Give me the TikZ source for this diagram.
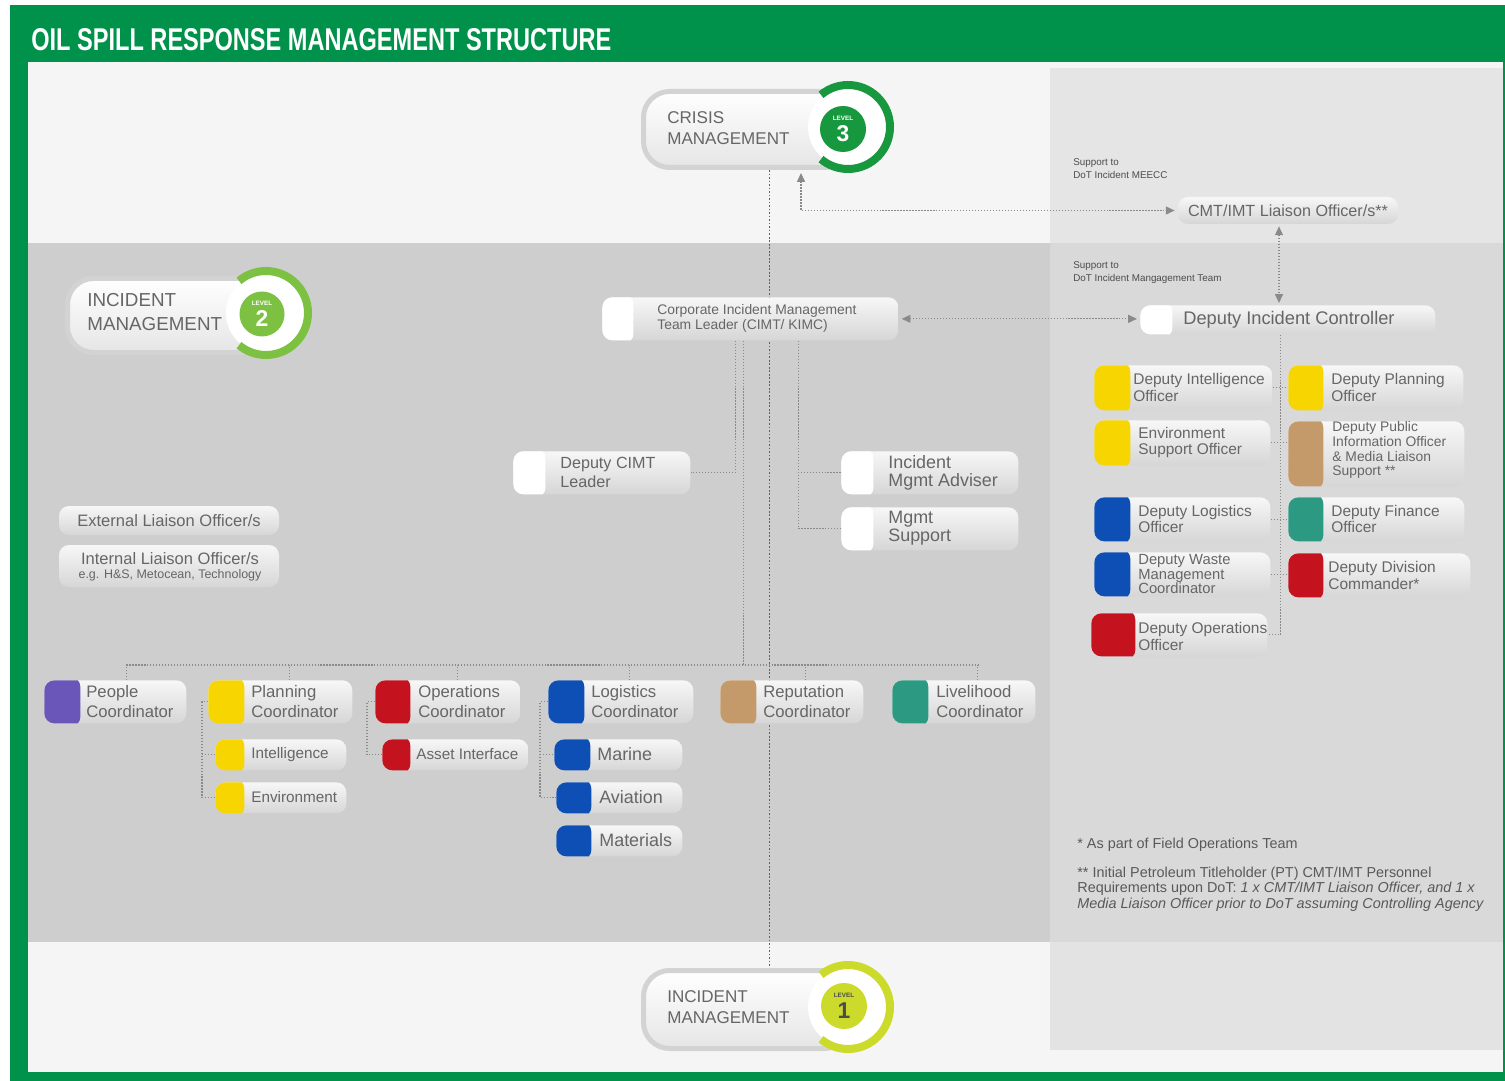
\documentclass[tikz,border=0pt]{standalone}
\usepackage{fontspec}
\setmainfont{Liberation Sans}
\usetikzlibrary{arrows.meta}
\definecolor{gframe}{HTML}{00924A}
\definecolor{bgLight}{HTML}{F5F5F5}
\definecolor{bgMid}{HTML}{CECECE}
\definecolor{panelTop}{HTML}{E5E5E5}
\definecolor{panelMid}{HTML}{D9D9D9}
\definecolor{panelBot}{HTML}{E3E3E3}
\definecolor{txt}{HTML}{666666}
\definecolor{lgray}{HTML}{8A8A8A}
\definecolor{mline}{HTML}{4D6577}
\definecolor{cPurple}{HTML}{6A55B8}
\definecolor{cYellow}{HTML}{F6D500}
\definecolor{cRed}{HTML}{C4121F}
\definecolor{cBlue}{HTML}{0E4FB5}
\definecolor{cTan}{HTML}{C49A6A}
\definecolor{cTeal}{HTML}{2C9A83}
\definecolor{boxTop}{HTML}{F7F7F7}
\definecolor{boxBot}{HTML}{D6D6D6}
\definecolor{rim}{HTML}{D3D3D3}
\definecolor{gThree}{HTML}{17983F}
\definecolor{gTwo}{HTML}{7CC142}
\definecolor{gOne}{HTML}{CCDB2B}
\newcommand\PX{0.02cm}
\newcommand\fz[2]{\fontsize{#1}{#2}\selectfont}
\newcommand\fCoord{\fz{9.5}{11.3}}
\newcommand\fSubY{\fz{8.7}{10}}
\newcommand\fSubB{\fz{10.2}{11}}
\newcommand\fRtwo{\fz{8.8}{9.2}}
\newcommand\fRthree{\fz{8.4}{8.5}}
\newcommand\fRfour{\fz{7.9}{8.5}}
\newcommand\fCorp{\fz{7.9}{9}}
\newcommand\fDC{\fz{9.2}{10.8}}
\newcommand\fAdv{\fz{10.2}{10.3}}
\newcommand\fCMT{\fz{9.2}{10}}
\newcommand\fDIC{\fz{10.4}{11}}
\newcommand\fExt{\fz{9.4}{10}}
\newcommand\fSmallx{\fz{7.1}{8}}
\newcommand\fFoot{\fz{8.2}{8.6}}
\newcommand\fSup{\fz{5.6}{7.4}}
\newcommand\fLvl{\fz{9.7}{11.9}}
\newcommand\fLvlB{\fz{10.7}{13.8}}
\pgfdeclarelayer{back}
\pgfdeclarelayer{lines}
\pgfsetlayers{back,lines,main}
% name, x1, y1, x2, y2, cap x end, cap colour
\newcommand\mkbox[7]{%
  \node[box, minimum width={(#4-#2)*\PX}, minimum height={(#5-#3)*\PX}, anchor=north west,
    path picture={\fill[#7] ([xshift=-2pt,yshift=-2pt]path picture bounding box.south west) rectangle ([xshift={(#6-#2)*\PX},yshift=2pt]path picture bounding box.north west);}]
    (#1) at (#2,#3) {};}
\begin{document}
\begin{tikzpicture}[x=\PX, y=-\PX,
  box/.style={rounded corners=10*\PX, top color=boxTop, bottom color=boxBot, inner sep=0},
  btxt/.style={text=txt, inner sep=0, align=left, anchor=west},
  ctxt/.style={text=txt, inner sep=0, align=center},
  conn/.style={draw=lgray, densely dotted, line width=0.7pt},
  arr/.style={draw=lgray, densely dotted, line width=0.7pt, {Triangle[length=5pt,width=4.5pt]}-{Triangle[length=5pt,width=4.5pt]}},
  mainline/.style={draw=mline, densely dotted, line width=1pt},
  lvlpill/.style={draw=rim, line width=5*\PX, rounded corners=26*\PX, top color=white, bottom color=white!90!black, inner sep=0},
  lvltxt/.style={text=txt, inner sep=0, align=left, anchor=west}]
\useasboundingbox (0,0) rectangle (1505,1081);
\begin{pgfonlayer}{back}
\fill[white] (0,0) rectangle (1505,1081);
\fill[gframe] (10,5) rectangle (1505,1081);
\fill[bgLight] (28,62) rectangle (1503,1072);
\fill[bgMid] (28,243) rectangle (1050,942);
\fill[panelTop] (1050,68) rectangle (1503,243);
\fill[panelMid] (1050,243) rectangle (1503,942);
\fill[panelBot] (1050,942) rectangle (1503,1050);
\end{pgfonlayer}
% title
\node[anchor=west, inner sep=0, text=white] (title) at (31,40) {\resizebox{11.6cm}{0.44cm}{\bfseries OIL SPILL RESPONSE MANAGEMENT STRUCTURE}};

% ---- level 3
\node[lvlpill, minimum width=207*\PX, minimum height=76*\PX, anchor=north west] (crisis) at (641,89) {};
\coordinate (r3) at (848,127);
\fill[white] (r3) circle[radius=40*\PX];
\draw[gThree, line width=8*\PX] ([shift={(130:42*\PX)}]r3) arc[start angle=130, end angle=-130, radius=42*\PX];
\node[circle, fill=gThree, minimum size=46*\PX, inner sep=0] (d3) at (843,129) {};
\node[inner sep=0, text=white, font=\fz{3.6}{4}\bfseries] (d3a) at (843,118) {LEVEL};
\node[inner sep=0, text=white, font=\fz{13}{13}\bfseries] (d3b) at (843,134) {3};
\node[lvltxt, font=\fLvl] (crisis-t) at (667,128) {CRISIS\\MANAGEMENT};

% ---- level 2
\node[lvlpill, minimum width=200*\PX, minimum height=74*\PX, anchor=north west] (lvltwo) at (65,276) {};
\coordinate (r2) at (266,313);
\fill[white] (r2) circle[radius=40*\PX];
\draw[gTwo, line width=8*\PX] ([shift={(130:42*\PX)}]r2) arc[start angle=130, end angle=-130, radius=42*\PX];
\node[circle, fill=gTwo, minimum size=45*\PX, inner sep=0] (d2) at (262,314) {};
\node[inner sep=0, text=white, font=\fz{3.6}{4}\bfseries] (d2a) at (262,303) {LEVEL};
\node[inner sep=0, text=white, font=\fz{13}{13}\bfseries] (d2b) at (262,319) {2};
\node[lvltxt, font=\fLvlB] (lvltwo-t) at (87,312) {INCIDENT\\MANAGEMENT};

% ---- level 1
\node[lvlpill, minimum width=207*\PX, minimum height=78*\PX, anchor=north west] (lvlone) at (641,968) {};
\coordinate (r1) at (848,1007);
\fill[white] (r1) circle[radius=40*\PX];
\draw[gOne, line width=8*\PX] ([shift={(130:42*\PX)}]r1) arc[start angle=130, end angle=-130, radius=42*\PX];
\node[circle, fill=gOne, minimum size=46*\PX, inner sep=0] (d1) at (844,1006) {};
\node[inner sep=0, text=black!70, font=\fz{3.6}{4}\bfseries] (d1a) at (844,995) {LEVEL};
\node[inner sep=0, text=black!70, font=\fz{13}{13}\bfseries] (d1b) at (844,1011) {1};
\node[lvltxt, font=\fLvl] (lvlone-t) at (667,1007) {INCIDENT\\MANAGEMENT};

% ---- top right
\node[btxt, text=black!70, font=\fSup] (sup1) at (1073,168.5) {Support to\\DoT Incident MEECC};
\node[btxt, text=black!70, font=\fSup] (sup2) at (1073,272.5) {Support to\\DoT Incident Mangagement Team};
\node[box, minimum width=220*\PX, minimum height=27*\PX, text=txt, font=\fCMT] (cmt) at (1288,210.5) {CMT/IMT Liaison Officer/s**};
\mkbox{dic}{1140}{305}{1435}{334}{1172}{white}
\node[btxt, font=\fDIC] (dic-t) at (1183,319.5) {Deputy Incident Controller};

% ---- centre
\mkbox{corp}{602}{297}{898}{340}{633}{white}
\node[btxt, font=\fCorp] (corp-t) at (657,318.5) {Corporate Incident Management\\Team Leader (CIMT/ KIMC)};
\mkbox{dcimt}{513}{451}{690}{494}{545}{white}
\node[btxt, font=\fDC] (dcimt-t) at (560,472.5) {Deputy CIMT\\Leader};
\mkbox{adv}{841}{451}{1018}{494}{873}{white}
\node[btxt, font=\fAdv] (adv-t) at (888,472.5) {Incident\\Mgmt Adviser};
\mkbox{msup}{841}{507}{1018}{550}{873}{white}
\node[btxt, font=\fAdv] (msup-t) at (888,528.5) {Mgmt\\Support};

% ---- liaison
\node[box, minimum width=220*\PX, minimum height=29*\PX, text=txt, font=\fExt] (ext) at (169,520.5) {External Liaison Officer/s};
\node[box, minimum width=220*\PX, minimum height=42*\PX] (intl) at (169,566) {};
\node[ctxt, font=\fExt] (intl-a) at (170,559) {Internal Liaison Officer/s};
\node[ctxt, font=\fSmallx] (intl-b) at (170,575) {e.g. H\&S, Metocean, Technology};

% ---- coordinators
\mkbox{people}{44}{680}{186}{723}{80}{cPurple}
\node[btxt, font=\fCoord] (people-t) at (86,701.5) {People\\Coordinator};
\mkbox{plan}{208}{680}{352}{723}{244}{cYellow}
\node[btxt, font=\fCoord] (plan-t) at (251,701.5) {Planning\\Coordinator};
\mkbox{intel}{215}{739}{346}{770}{244}{cYellow}
\node[btxt, font=\fSubY] (intel-t) at (251,754.5) {Intelligence};
\mkbox{envi}{215}{782}{346}{813}{244}{cYellow}
\node[btxt, font=\fSubY] (envi-t) at (251,797.5) {Environment};
\mkbox{opc}{375}{680}{520}{723}{410}{cRed}
\node[btxt, font=\fCoord] (opc-t) at (418,701.5) {Operations\\Coordinator};
\mkbox{asset}{382}{739}{528}{770}{410}{cRed}
\node[btxt, font=\fSubY] (asset-t) at (416,754.5) {Asset Interface};
\mkbox{logc}{548}{680}{693}{723}{584}{cBlue}
\node[btxt, font=\fCoord] (logc-t) at (591,701.5) {Logistics\\Coordinator};
\mkbox{marine}{554}{739}{682}{770}{590}{cBlue}
\node[btxt, font=\fSubB] (marine-t) at (597,754.5) {Marine};
\mkbox{aviation}{556}{782}{682}{813}{591}{cBlue}
\node[btxt, font=\fSubB] (aviation-t) at (599,797.5) {Aviation};
\mkbox{materials}{556}{825}{682}{856}{591}{cBlue}
\node[btxt, font=\fSubB] (materials-t) at (599,840.5) {Materials};
\mkbox{repc}{720}{680}{863}{723}{756}{cTan}
\node[btxt, font=\fCoord] (repc-t) at (763,701.5) {Reputation\\Coordinator};
\mkbox{live}{892}{680}{1035}{723}{928}{cTeal}
\node[btxt, font=\fCoord] (live-t) at (936,701.5) {Livelihood\\Coordinator};

% ---- right panel deputies
\mkbox{dint}{1094}{365}{1272}{410}{1130}{cYellow}
\node[btxt, font=\fRtwo] (dint-t) at (1133,387.5) {Deputy Intelligence\\Officer};
\mkbox{dplan}{1288}{365}{1463}{410}{1323}{cYellow}
\node[btxt, font=\fRtwo] (dplan-t) at (1331,387.5) {Deputy Planning\\Officer};
\mkbox{envs}{1094}{420}{1270}{465}{1130}{cYellow}
\node[btxt, font=\fRtwo] (envs-t) at (1138,442.5) {Environment\\Support Officer};
\mkbox{dpub}{1288}{421}{1464}{486}{1323}{cTan}
\node[btxt, font=\fRfour] (dpub-t) at (1332,450) {Deputy Public\\Information Officer\\\& Media Liaison\\Support **};
\mkbox{dlog}{1094}{497}{1270}{541}{1130}{cBlue}
\node[btxt, font=\fRtwo] (dlog-t) at (1138,519) {Deputy Logistics\\Officer};
\mkbox{dfin}{1288}{497}{1464}{541}{1323}{cTeal}
\node[btxt, font=\fRtwo] (dfin-t) at (1331,519) {Deputy Finance\\Officer};
\mkbox{dwaste}{1094}{552}{1270}{596}{1130}{cBlue}
\node[btxt, font=\fRthree] (dwaste-t) at (1138,574) {Deputy Waste\\Management\\Coordinator};
\mkbox{ddiv}{1288}{553}{1470}{597}{1323}{cRed}
\node[btxt, font=\fRtwo] (ddiv-t) at (1328,575.5) {Deputy Division\\Commander*};
\mkbox{dop}{1091}{613}{1267}{656}{1135}{cRed}
\node[btxt, font=\fRtwo] (dop-t) at (1138,636.5) {Deputy Operations\\Officer};

% ---- footnotes
\node[btxt, anchor=north west, text=black!65, font=\fFoot] (fn1) at (1077,838) {* As part of Field Operations Team};
\node[btxt, anchor=north west, text=black!65, font=\fFoot] (fn2) at (1077,867) {** Initial Petroleum Titleholder (PT) CMT/IMT Personnel\\Requirements upon DoT: \textit{1 x CMT/IMT Liaison Officer, and 1 x}\\\textit{Media Liaison Officer prior to DoT assuming Controlling Agency}};

% ---- connectors
\begin{pgfonlayer}{lines}
\coordinate (mtop) at ([xshift=22.5*\PX]crisis.south);
\coordinate (mbot) at (mtop |- lvlone.north);
\draw[mainline] (mtop) -- (mbot);
\coordinate (atop) at ([xshift=54*\PX]crisis.south);
\draw[arr, shorten <=3*\PX, shorten >=3*\PX] (atop) |- (cmt.west);
\coordinate (cv) at ([xshift=-9*\PX]cmt.south);
\draw[arr, shorten <=2*\PX, shorten >=2*\PX] (cv) -- (cv |- dic.north);
\draw[arr, shorten <=3*\PX, shorten >=3*\PX] (corp.east) -- (corp.east -| dic.west);
\coordinate (k1) at ([xshift=-15*\PX]corp.south);
\draw[conn] (k1) |- (dcimt.east);
\coordinate (bus) at (743,665);
\coordinate (k2) at ([xshift=-7*\PX]corp.south);
\draw[conn] (k2) -- (k2 |- bus);
\coordinate (k3) at ([xshift=48*\PX]corp.south);
\draw[conn] (k3) |- (adv.west);
\draw[conn] (k3) |- (msup.west);
\foreach \n/\s in {people/11,plan/9,opc/10,logc/9,repc/14,live/14}{
  \coordinate (\n-d) at ([xshift=\s*\PX]\n.north);
  \draw[conn] (\n-d) -- (\n-d |- bus);
}
\draw[conn] (people-d |- bus) -- (live-d |- bus);
\coordinate (pv) at ([xshift=-6*\PX]plan.west);
\draw[conn] (plan.west) -- (pv) |- (envi.west);
\draw[conn] (pv |- intel.west) -- (intel.west);
\coordinate (ov) at ([xshift=-8*\PX]opc.west);
\draw[conn] (opc.west) -- (ov) |- (asset.west);
\coordinate (lv) at ([xshift=-8*\PX]logc.west);
\draw[conn] (logc.west) -- (lv) |- (aviation.west);
\draw[conn] (lv |- marine.west) -- (marine.west);
\coordinate (rv) at ([xshift=-7.5*\PX]dic.south);
\draw[conn] (rv) |- (dop.east);
\draw[conn] (dint.east) -- (dint.east -| dplan.west);
\draw[conn] (envs.east) -- (envs.east -| dpub.west);
\draw[conn] (dlog.east) -- (dlog.east -| dfin.west);
\draw[conn] (dwaste.east) -- (dwaste.east -| ddiv.west);
\end{pgfonlayer}
\end{tikzpicture}
\end{document}
